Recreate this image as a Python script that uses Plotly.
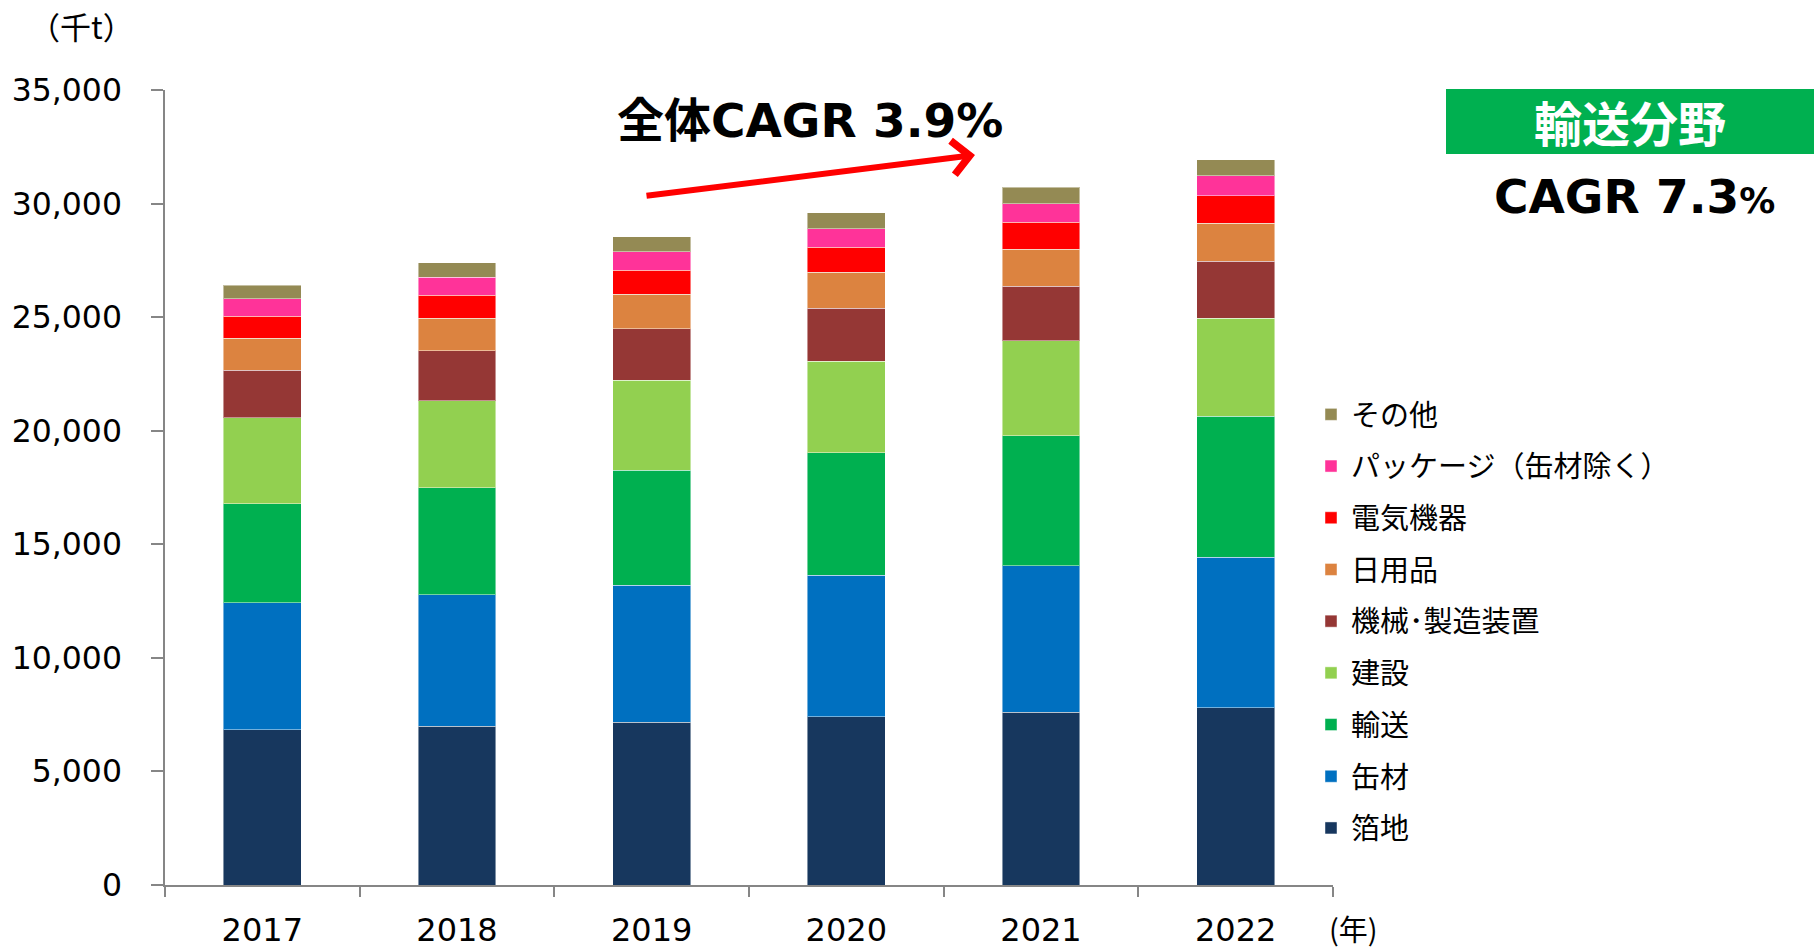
import plotly.graph_objects as go

years = ["2017", "2018", "2019", "2020", "2021", "2022"]

# series (bottom to top), values in thousand tonnes
hakuchi   = [6830, 6980, 7170, 7410, 7610, 7810]
kanzai    = [5600, 5800, 6030, 6220, 6440, 6620]
yuso      = [4360, 4700, 5070, 5390, 5730, 6200]
kensetsu  = [3770, 3840, 3960, 4040, 4180, 4330]
kikai     = [2100, 2190, 2260, 2340, 2400, 2510]
nichiyo   = [1400, 1450, 1510, 1570, 1630, 1670]
denki     = [980, 1010, 1060, 1110, 1180, 1200]
package   = [760, 790, 830, 820, 820, 880]
sonota    = [610, 640, 640, 690, 730, 720]

series_names = ["箔地", "缶材", "輸送", "建設", "機械･製造装置", "日用品", "電気機器",
                "パッケージ（缶材除く）", "その他"]
series_values = [hakuchi, kanzai, yuso, kensetsu, kikai, nichiyo, denki, package, sonota]
colors = ["#17375E", "#0070C0", "#00B050", "#92D050", "#953735", "#DC8340",
          "#FF0000", "#FF3399", "#948A54"]

y_ticks = [0, 5000, 10000, 15000, 20000, 25000, 30000, 35000]

FONT_NUM = "DejaVu Sans, Noto Sans CJK JP"
FONT_JP = "Noto Sans CJK JP"

fig = go.Figure()
for i, (name, vals, col) in enumerate(zip(series_names, series_values, colors)):
    fig.add_trace(go.Bar(
        x=years, y=vals, name=name, legendgroup=f"g{i}", legendrank=1000 - 10 * i,
        marker=dict(color=col, line=dict(color="rgba(255,255,255,0.45)", width=1)),
    ))

W, H = 1814, 950
PL, PT, PW, PH = 165, 90, 1168, 795   # plot area in screen pixels
L, T = PL, PT
R = W - L - PW
B = H - T - PH

def px(xp):
    return (xp - PL) / PW

def py(yp):
    return (PT + PH - yp) / PH

fig.update_layout(
    width=W, height=H,
    margin=dict(l=L, r=R, t=T, b=B, pad=0, autoexpand=False),
    barmode="stack", bargap=0.6,
    plot_bgcolor="white", paper_bgcolor="white",
    font=dict(family=FONT_NUM, size=31, color="#000000"),
    legend=dict(
        traceorder="grouped", tracegroupgap=11,
        xref="container", yref="container",
        x=1311 / W, y=1 - 389 / H, xanchor="left", yanchor="top",
        font=dict(family=FONT_JP, size=29, color="#000000"),
        bgcolor="rgba(0,0,0,0)", borderwidth=0,
    ),
    xaxis=dict(
        showline=True, linecolor="#868686", linewidth=1.5,
        ticks="outside", tickson="boundaries", ticklen=10, tickcolor="#868686",
        tickwidth=1.5, ticklabelstandoff=16,
        tickfont=dict(family=FONT_NUM, size=32),
        showgrid=False, zeroline=False,
    ),
    yaxis=dict(
        range=[0, 35000], tickvals=y_ticks,
        tickformat=",d",
        showline=True, linecolor="#868686", linewidth=1.5,
        ticks="outside", ticklen=12, tickcolor="#868686", tickwidth=1.5,
        ticklabelstandoff=23,
        tickfont=dict(family=FONT_NUM, size=31.5),
        showgrid=False, zeroline=False,
    ),
    showlegend=True,
)

# green box
fig.add_shape(type="rect", xref="paper", yref="paper",
              x0=px(1446), x1=px(1830), y0=py(154), y1=py(89),
              fillcolor="#00B050", line=dict(width=0), layer="above")

annotations = [
    dict(text="（千t）", x=px(81), y=py(25), font=dict(family=FONT_JP, size=31)),
    dict(text="(年)", x=px(1353), y=py(928), font=dict(family=FONT_JP, size=29)),
    dict(text="<b>全体CAGR 3.9%</b>", x=px(810), y=py(120), font=dict(family=FONT_NUM, size=47)),
    dict(text="<b>輸送分野</b>", x=px(1630), y=py(121), font=dict(family=FONT_JP, size=48, color="white")),
    dict(text="<b>CAGR 7.3<span style='font-size:36px'>%</span></b>", x=px(1634), y=py(197),
         font=dict(family=FONT_NUM, size=47)),
]
for a in annotations:
    fig.add_annotation(xref="paper", yref="paper", showarrow=False,
                       xanchor="center", yanchor="middle", borderpad=0, **a)

# red arrow
fig.add_annotation(xref="paper", yref="paper", x=px(975), y=py(155),
                   ax=645 - 975, ay=196 - 155, axref="pixel", ayref="pixel",
                   text="", showarrow=True, arrowhead=4, arrowsize=1.1,
                   arrowwidth=6, arrowcolor="#FF0000", standoff=0)

fig.write_html("out.html",
               config={"displayModeBar": False},
               post_script="document.body.style.margin='0';"
                           "document.body.style.overflow='hidden';")
